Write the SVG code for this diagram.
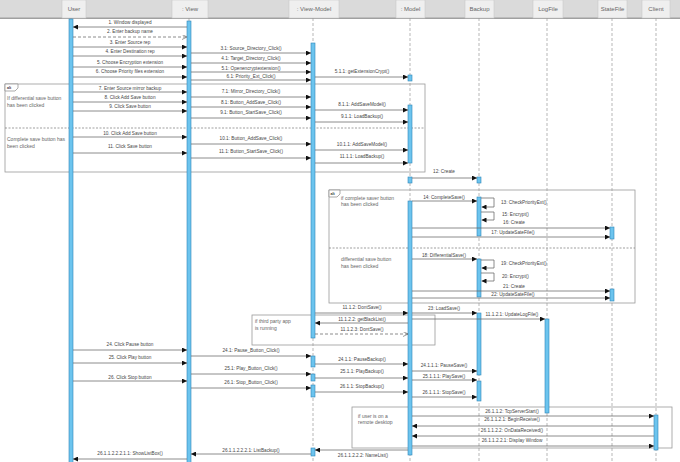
<svg xmlns="http://www.w3.org/2000/svg" width="680" height="462" viewBox="0 0 680 462">
<defs>
<marker id="a" viewBox="0 0 10 10" refX="10" refY="5" markerWidth="5" markerHeight="5" orient="auto" markerUnits="userSpaceOnUse"><path d="M0,0 L10,5 L0,10 z" fill="#111"/></marker>
<marker id="o" viewBox="0 0 10 10" refX="10" refY="5" markerWidth="5" markerHeight="5" orient="auto" markerUnits="userSpaceOnUse"><path d="M0,0 L10,5 L0,10" fill="none" stroke="#555" stroke-width="1.2"/></marker>
<style>
.lbl{font-family:"Liberation Sans",Arial,sans-serif;font-size:4.7px;fill:#444;text-anchor:middle}
.lt{font-family:"Liberation Sans",Arial,sans-serif;font-size:4.7px;fill:#444}
.g{font-family:"Liberation Sans",Arial,sans-serif;font-size:5px;fill:#666}
.hd{font-family:"Liberation Sans",Arial,sans-serif;font-size:6px;fill:#666;text-anchor:middle}
.tag{font-family:"Liberation Sans",Arial,sans-serif;font-size:3.6px;font-weight:bold;fill:#333}
.m{stroke:#666;stroke-width:0.75;fill:none;marker-end:url(#a)}
.d{stroke:#666;stroke-width:0.75;fill:none;stroke-dasharray:3 2;marker-end:url(#o)}
.life{stroke:#999;stroke-width:0.7;stroke-dasharray:3 2}
.act{fill:#6cc4ee;stroke:#2f86b8;stroke-width:0.6}
.fr{fill:none;stroke:#999;stroke-width:0.8}
.sep{stroke:#777;stroke-width:0.7;stroke-dasharray:2 1.5}
.box{fill:#efefef;stroke:#c8c8c8;stroke-width:0.6}
</style>
</defs>
<rect width="680" height="462" fill="#fff"/>
<rect x="0" y="0" width="680" height="18" fill="#dadada"/>
<line x1="0" y1="18.3" x2="680" y2="18.3" stroke="#a0a0a0" stroke-width="1.4"/>

<g id="frames">
<rect class="fr" x="5" y="84" width="420" height="88"/>
<path d="M5,84 H18 V88 L15,91 H5 Z" fill="#fff" stroke="#888" stroke-width="0.7"/>
<text class="tag" x="7" y="89">alt</text>
<line class="sep" x1="5" y1="128" x2="425" y2="128"/>
<text class="g" x="7" y="100">If differential save button</text>
<text class="g" x="7" y="107">has been clicked</text>
<text class="g" x="7" y="141">Complete save button has</text>
<text class="g" x="7" y="148">been clicked</text>

<rect class="fr" x="329" y="190" width="306" height="113"/>
<path d="M329,190 H340 V194 L337,197 H329 Z" fill="#fff" stroke="#888" stroke-width="0.7"/>
<text class="tag" x="330.5" y="195">alt</text>
<line class="sep" x1="329" y1="248" x2="635" y2="248"/>
<text class="g" x="341" y="200">if complete saver button</text>
<text class="g" x="341" y="206">has been clicked</text>
<text class="g" x="341" y="261">differential save button</text>
<text class="g" x="341" y="268">has been clicked</text>

<rect class="fr" x="252" y="315" width="183" height="30"/>
<text class="g" x="255" y="323">if third party app</text>
<text class="g" x="255" y="330">is running</text>

<rect class="fr" x="352" y="407" width="320" height="41"/>
<text class="g" x="358" y="418">if user is on a</text>
<text class="g" x="358" y="424">remote desktop</text>
</g>

<g id="user">
<rect class="box" x="62" y="0" width="24" height="18"/>
<text class="hd" x="74" y="11">User</text>
<line class="life" x1="71" y1="18" x2="71" y2="462"/>
<rect class="act" x="69" y="19" width="4" height="444"/>
</g>
<g id="view">
<rect class="box" x="172" y="0" width="36" height="18"/>
<text class="hd" x="190" y="11">: View</text>
<line class="life" x1="189" y1="18" x2="189" y2="462"/>
<rect class="act" x="187" y="21" width="4" height="442"/>
</g>
<g id="viewmodel">
<rect class="box" x="289" y="0" width="50" height="18"/>
<text class="hd" x="314" y="11">: View-Model</text>
<line class="life" x1="313" y1="18" x2="313" y2="462"/>
<rect class="act" x="311" y="43" width="4" height="295"/>
<rect class="act" x="311" y="356" width="4" height="11"/>
<rect class="act" x="311" y="374" width="4" height="7"/>
<rect class="act" x="311" y="385" width="4" height="12"/>
<rect class="act" x="311" y="448" width="4" height="8"/>
</g>
<g id="model">
<rect class="box" x="396" y="0" width="29" height="18"/>
<text class="hd" x="410.5" y="11">: Model</text>
<line class="life" x1="410" y1="18" x2="410" y2="462"/>
<rect class="act" x="408" y="75" width="4" height="6"/>
<rect class="act" x="408" y="105" width="4" height="58"/>
<rect class="act" x="408" y="177" width="4" height="6"/>
<rect class="act" x="408" y="201" width="4" height="254"/>
</g>
<g id="backup">
<rect class="box" x="465" y="0" width="29" height="18"/>
<text class="hd" x="479.5" y="11">Backup</text>
<line class="life" x1="479" y1="18" x2="479" y2="462"/>
<rect class="act" x="477" y="177" width="4" height="6"/>
<rect class="act" x="477" y="197" width="4" height="39"/>
<rect class="act" x="477" y="259" width="4" height="38"/>
<rect class="act" x="477" y="313" width="4" height="62"/>
<rect class="act" x="477" y="381" width="4" height="20"/>
</g>
<g id="logfile">
<rect class="box" x="533" y="0" width="30" height="18"/>
<text class="hd" x="548" y="11">LogFile</text>
<line class="life" x1="547" y1="18" x2="547" y2="462"/>
<rect class="act" x="545" y="319" width="4" height="94"/>
</g>
<g id="statefile">
<rect class="box" x="598" y="0" width="29" height="18"/>
<text class="hd" x="612.5" y="11">StateFile</text>
<line class="life" x1="612" y1="18" x2="612" y2="462"/>
<rect class="act" x="610" y="227" width="4" height="12"/>
<rect class="act" x="610" y="289" width="4" height="12"/>
</g>
<g id="client">
<rect class="box" x="642" y="0" width="28" height="18"/>
<text class="hd" x="656" y="11">Client</text>
<line class="life" x1="656" y1="18" x2="656" y2="462"/>
<rect class="act" x="654" y="415" width="4" height="35"/>
</g>

<g id="connectors">
<line class="m" x1="187" y1="27" x2="73" y2="27"/><text class="lbl" x="130" y="23.5">1. Window displayed</text>
<line class="d" x1="73" y1="37" x2="187" y2="37"/><text class="lbl" x="130" y="33">2. Enter backup name</text>
<line class="m" x1="73" y1="47" x2="187" y2="47"/><text class="lbl" x="130" y="44">3. Enter Source rep</text>
<line class="m" x1="73" y1="56" x2="187" y2="56"/><text class="lbl" x="130" y="53">4. Enter Destination rep</text>
<line class="m" x1="73" y1="67" x2="187" y2="67"/><text class="lbl" x="130" y="63.5">5. Choose Encryption extension</text>
<line class="m" x1="73" y1="77" x2="187" y2="77"/><text class="lbl" x="130" y="72.5">6. Choose Priority files extension</text>
<line class="m" x1="73" y1="92" x2="187" y2="92"/><text class="lbl" x="130" y="90">7. Enter Source mirror backup</text>
<line class="m" x1="73" y1="102" x2="187" y2="102"/><text class="lbl" x="130" y="98.5">8. Click Add Save button</text>
<line class="m" x1="73" y1="111" x2="187" y2="111"/><text class="lbl" x="130" y="107.5">9. Click Save button</text>
<line class="m" x1="73" y1="137" x2="187" y2="137"/><text class="lbl" x="130" y="134.5">10. Click Add Save button</text>
<line class="m" x1="73" y1="153" x2="187" y2="153"/><text class="lbl" x="130" y="147.5">11. Click Save button</text>
<line class="m" x1="73" y1="350" x2="187" y2="350"/><text class="lbl" x="130" y="345.5">24. Click Pause button</text>
<line class="m" x1="73" y1="363" x2="187" y2="363"/><text class="lbl" x="130" y="358.5">25. Click Play button</text>
<line class="m" x1="73" y1="381" x2="187" y2="381"/><text class="lbl" x="130" y="378.5">26. Click Stop button</text>
<line class="m" x1="187" y1="459" x2="73" y2="459"/><text class="lbl" x="130" y="454.5">26.1.1.2.2.2.1.1: ShowListBox()</text>

<line class="m" x1="191" y1="53" x2="311" y2="53"/><text class="lbl" x="251" y="49.5">3.1: Source_Directory_Click()</text>
<line class="m" x1="191" y1="63" x2="311" y2="63"/><text class="lbl" x="251" y="59.5">4.1: Target_Directory_Click()</text>
<line class="m" x1="191" y1="72" x2="311" y2="72"/><text class="lbl" x="251" y="69.5">5.1: Openencryptextension()</text>
<line class="m" x1="191" y1="80" x2="311" y2="80"/><text class="lbl" x="251" y="77.5">6.1: Priority_Ext_Click()</text>
<line class="m" x1="191" y1="97" x2="311" y2="97"/><text class="lbl" x="251" y="92.5">7.1: Mirror_Directory_Click()</text>
<line class="m" x1="191" y1="107" x2="311" y2="107"/><text class="lbl" x="251" y="103.5">8.1: Button_AddSave_Click()</text>
<line class="m" x1="191" y1="118" x2="311" y2="118"/><text class="lbl" x="251" y="113.5">9.1: Button_StartSave_Click()</text>
<line class="m" x1="191" y1="144" x2="311" y2="144"/><text class="lbl" x="251" y="139.5">10.1: Button_AddSave_Click()</text>
<line class="m" x1="191" y1="158" x2="311" y2="158"/><text class="lbl" x="251" y="152.5">11.1: Button_StartSave_Click()</text>
<line class="m" x1="191" y1="356" x2="311" y2="356"/><text class="lbl" x="251" y="351.5">24.1: Pause_Button_Click()</text>
<line class="m" x1="191" y1="374" x2="311" y2="374"/><text class="lbl" x="251" y="369.5">25.1: Play_Button_Click()</text>
<line class="m" x1="191" y1="388" x2="311" y2="388"/><text class="lbl" x="251" y="383.5">26.1: Stop_Button_Click()</text>
<line class="m" x1="311" y1="454" x2="191" y2="454"/><text class="lbl" x="251" y="452">26.1.1.2.2.2.1: ListBackup()</text>

<line class="m" x1="315" y1="77" x2="408" y2="77"/><text class="lbl" x="362" y="72.5">5.1.1: getExtensionCrypt()</text>
<line class="m" x1="315" y1="110" x2="408" y2="110"/><text class="lbl" x="362" y="105.5">8.1.1: AddSaveModel()</text>
<line class="m" x1="315" y1="122" x2="408" y2="122"/><text class="lbl" x="362" y="117.5">9.1.1: LoadBackup()</text>
<line class="m" x1="315" y1="150" x2="408" y2="150"/><text class="lbl" x="362" y="145.5">10.1.1: AddSaveModel()</text>
<line class="m" x1="315" y1="163" x2="408" y2="163"/><text class="lbl" x="362" y="157.5">11.1.1: LoadBackup()</text>
<line class="m" x1="315" y1="313" x2="408" y2="313"/><text class="lbl" x="362" y="308.5">11.1.2: DontSave()</text>
<line class="m" x1="408" y1="323" x2="315" y2="323"/><text class="lbl" x="362" y="320.5">11.1.2.2: getBlackList()</text>
<line class="d" x1="315" y1="334" x2="408" y2="334"/><text class="lbl" x="362" y="330.5">11.1.2.3: DontSave()</text>
<line class="m" x1="315" y1="364" x2="408" y2="364"/><text class="lbl" x="362" y="360.5">24.1.1: PauseBackup()</text>
<line class="m" x1="315" y1="378" x2="408" y2="378"/><text class="lbl" x="362" y="372.5">25.1.1: PlayBackup()</text>
<line class="m" x1="315" y1="392" x2="408" y2="392"/><text class="lbl" x="362" y="387.5">26.1.1: StopBackup()</text>
<line class="m" x1="408" y1="450" x2="315" y2="450"/><text class="lbl" x="363" y="457">26.1.1.2.2.2: NameList()</text>

<line class="m" x1="412" y1="178" x2="477" y2="178"/><text class="lbl" x="444" y="172.5">12: Create</text>
<line class="m" x1="412" y1="201" x2="477" y2="201"/><text class="lbl" x="444" y="198.5">14: CompleteSave()</text>
<line class="m" x1="412" y1="259" x2="477" y2="259"/><text class="lbl" x="444" y="256.5">18: DifferentialSave()</text>
<line class="m" x1="412" y1="313" x2="477" y2="313"/><text class="lbl" x="444" y="309.5">23: LoadSave()</text>
<line class="m" x1="412" y1="371" x2="477" y2="371"/><text class="lbl" x="444" y="366.5">24.1.1.1: PauseSave()</text>
<line class="m" x1="412" y1="380" x2="477" y2="380"/><text class="lbl" x="444" y="377.5">25.1.1.1: PlaySave()</text>
<line class="m" x1="412" y1="397" x2="477" y2="397"/><text class="lbl" x="444" y="393.5">26.1.1.1: StopSave()</text>

<path class="m" d="M481,198 H494 V207 H481.5"/><text class="lt" x="501" y="203.5">13: CheckPriorityExt()</text>
<path class="m" d="M481,212 H494 V220 H481.5"/><text class="lt" x="502" y="215.5">15: Encrypt()</text>
<path class="m" d="M481,260 H494 V268 H481.5"/><text class="lt" x="501" y="264.5">19: CheckPriorityExt()</text>
<path class="m" d="M481,273 H494 V281 H481.5"/><text class="lt" x="502" y="277.5">20: Encrypt()</text>

<line class="m" x1="412" y1="228" x2="610" y2="228"/><text class="lbl" x="514" y="223.5">16: Create</text>
<line class="m" x1="412" y1="237" x2="610" y2="237"/><text class="lbl" x="513" y="233.5">17: UpdateSateFile()</text>
<line class="m" x1="412" y1="291" x2="610" y2="291"/><text class="lbl" x="514" y="287.5">21: Create</text>
<line class="m" x1="412" y1="298" x2="610" y2="298"/><text class="lbl" x="513" y="295.5">22: UpdateSateFile()</text>

<line class="m" x1="412" y1="319" x2="545" y2="319"/><text class="lbl" x="512" y="315.5">11.1.2.1: UpdateLogFile()</text>

<line class="m" x1="412" y1="416" x2="654" y2="416"/><text class="lbl" x="512" y="412.5">26.1.1.2: TcpServerStart()</text>
<line class="m" x1="654" y1="426" x2="412" y2="426"/><text class="lbl" x="512" y="420.5">26.1.1.2.1: BeginReceive()</text>
<line class="m" x1="654" y1="436" x2="412" y2="436"/><text class="lbl" x="512" y="431.5">26.1.1.2.2: OnDataReceived()</text>
<line class="m" x1="412" y1="446" x2="654" y2="446"/><text class="lbl" x="512" y="441.5">26.1.1.2.2.1: Display Window</text>
</g>
</svg>
